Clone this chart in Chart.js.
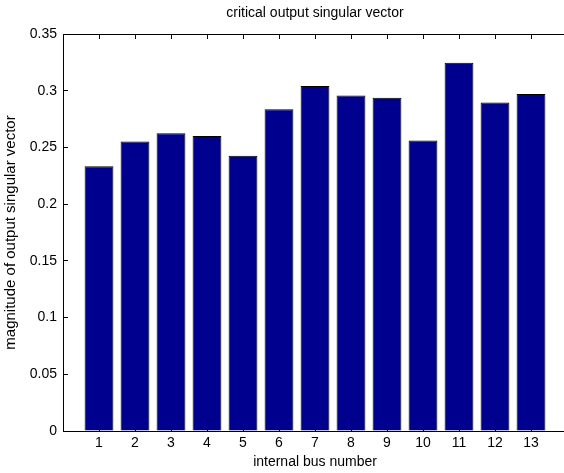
<!DOCTYPE html>
<html>
<head>
<meta charset="utf-8">
<script src="https://cdn.jsdelivr.net/npm/chart.js@4"></script>
<style>
    html, body { margin: 0; padding: 0; background: #fff; overflow: hidden; }
    /* plot box runs a little past the right edge, like the original figure */
    #wrap { width: 576px; height: 473px; position: relative; }
</style>
</head>
<body>
<div id="wrap"><canvas id="chart"></canvas></div>
<script>
// bus numbers and output singular vector magnitudes
var busNumbers = [1, 2, 3, 4, 5, 6, 7, 8, 9, 10, 11, 12, 13];
var magnitudes = [0.2334, 0.2552, 0.2624, 0.2601, 0.2427, 0.2836, 0.3042, 0.2958, 0.2937, 0.2560, 0.3247, 0.2896, 0.2970];
var yTicks = [0, 0.05, 0.1, 0.15, 0.2, 0.25, 0.3, 0.35];

var fam = "'Liberation Sans', Arial, Helvetica, sans-serif";
Chart.defaults.font = { family: fam, size: 14 };
Chart.defaults.color = '#000';

function points() {
    return busNumbers.map(function (b, i) {
        return { x: b, y: magnitudes[i] };
    });
}

new Chart(document.getElementById('chart'), {
    type: 'bar',
    data: {
        datasets: [
            {
                data: points(),
                backgroundColor: '#00008f',
                borderColor: '#000',
                borderWidth: 1,
                barPercentage: 0.8,
                categoryPercentage: 1
            }
        ]
    },
    options: {
        responsive: true,
        maintainAspectRatio: false,
        animation: false,
        plugins: {
            legend: { display: false },
            tooltip: { enabled: false }
        },
        scales: {
            x: {
                type: 'linear',
                position: 'bottom',
                min: 0,
                max: 14,
                offset: false,
                afterFit: function (s) { s.height = 42; },
                ticks: {
                    stepSize: 1,
                    autoSkip: false,
                    maxRotation: 0,
                    padding: 9,
                    callback: function (v) {
                        return busNumbers.indexOf(v) >= 0 ? String(v) : '';
                    }
                },
                grid: { offset: false, drawOnChartArea: false, tickLength: -5, color: '#000' },
                border: { color: '#000', width: 1 },
                title: { display: true, text: 'internal bus number', padding: { top: 0, bottom: 2 } }
            },
            x2: {
                type: 'linear',
                position: 'top',
                min: 0,
                max: 14,
                offset: false,
                afterFit: function (s) { s.height = 34; },
                ticks: { stepSize: 1, display: false },
                grid: { offset: false, drawOnChartArea: false, tickLength: -5, color: '#000' },
                border: { color: '#000', width: 1 },
                title: { display: true, text: 'critical output singular vector', padding: { top: 5, bottom: 0 } }
            },
            y: {
                min: 0,
                max: 0.35,
                afterFit: function (s) { s.width = 63; },
                afterBuildTicks: function (s) {
                    s.ticks = yTicks.map(function (v) { return { value: v }; });
                },
                ticks: {
                    padding: 11,
                    callback: function (v) { return String(+v.toFixed(2)); }
                },
                grid: { drawOnChartArea: false, tickLength: -5, color: '#000' },
                border: { color: '#000', width: 1 },
                title: {
                    display: true,
                    text: 'magnitude of output singular vector',
                    font: { family: fam, size: 15 },
                    padding: { top: 2, bottom: 0 }
                }
            }
        }
    }
});
</script>
</body>
</html>
